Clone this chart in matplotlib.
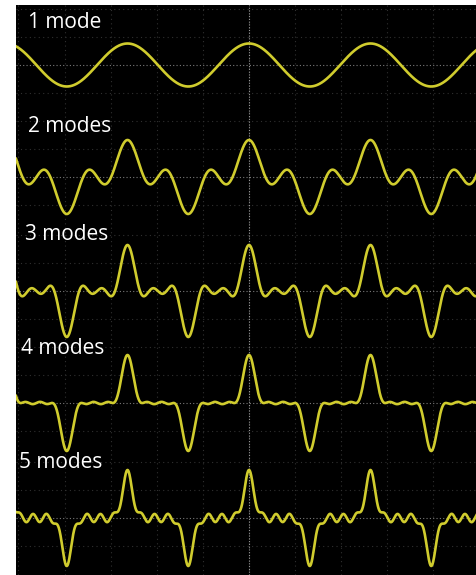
import numpy as np
import matplotlib.pyplot as plt

# scope screen, pixel units
labels = ["1 mode", "2 modes", "3 modes", "4 modes", "5 modes"]
label_x = [28, 28, 25, 21, 19]
label_y = [22, 127, 235, 349, 463]
baselines = [65, 177, 291, 403, 518]
peak_px = [21.5, 37, 46, 48, 48]          # pulse height above the baseline
harmonics = [1, 3, 5, 7, 9]               # odd harmonics of the repetition rate
weights = [
    [1.0],
    [1.0, 0.8],
    [1.0, 0.85, 0.5],
    [1.0, 0.76, 0.43, 0.19],
    [1.0, 0.76, 0.43, 0.19, 0.28],
]
period = 121.5
x_peak = 249

fig = plt.figure(figsize=(4.77, 5.75), dpi=100)
ax = fig.add_axes([16 / 477, 0, 461 / 477, 570 / 575])
ax.set_facecolor("black")
ax.set_xlim(16, 477)
ax.set_ylim(575, 5)
ax.set_xticks([])
ax.set_yticks([])
for s in ax.spines.values():
    s.set_visible(False)

# faint graticule
for gx in np.arange(x_peak - 5 * 46.1, 480, 46.1):
    ax.axvline(gx, color="#303030", lw=0.8, ls=(0, (1, 3)))
for b in baselines:
    for off in (-56, -28, 28):
        ax.axhline(b + off, color="#303030", lw=0.8, ls=(0, (1, 3)))
    ax.axhline(b, color="#7a7a7a", lw=0.8, ls=(0, (1, 2)))
ax.axvline(x_peak, color="#9a9a9a", lw=0.8, ls=(0, (1, 1.5)))

x = np.linspace(16, 477, 2000)
ph = 2 * np.pi * (x - x_peak) / period
for i in range(len(labels)):
    w = np.array(weights[i])
    sig = np.zeros_like(x)
    for k, wk in zip(harmonics, w):
        sig += wk * np.cos(k * ph)
    sig = sig / w.sum()
    ax.plot(x, baselines[i] - peak_px[i] * sig, color="#d0cc2e", lw=1.9)
    ax.text(label_x[i], label_y[i], labels[i], color="white", fontsize=15,
            family="Open Sans", va="center", ha="left")

fig.savefig("out.png", dpi=100, facecolor="white")
